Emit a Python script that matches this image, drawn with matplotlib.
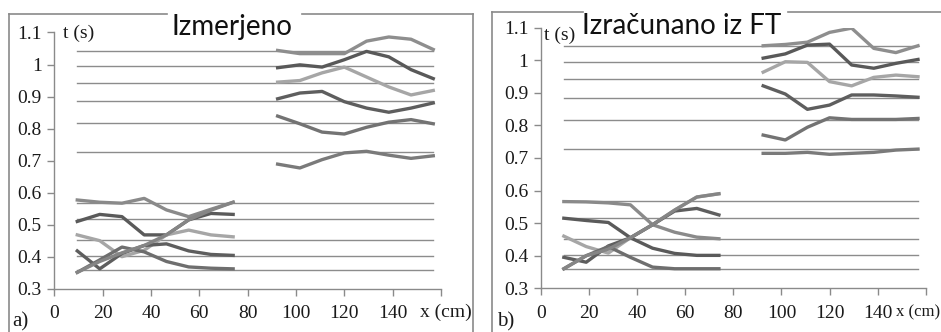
import matplotlib
matplotlib.use("Agg")
import matplotlib.pyplot as plt
from matplotlib.lines import Line2D

# measurement positions (cm)
x_low = [9.5, 18.8, 28.0, 37.2, 46.4, 55.6, 64.8, 74.0]
x_high = [92.4, 101.6, 110.8, 120.0, 129.2, 138.4, 147.6, 156.8]

# thin reference levels (s), same in both panels
ref_levels = [1.043, 0.994, 0.943, 0.885, 0.817, 0.727, 0.567, 0.517, 0.452, 0.401, 0.359]
ref_from, ref_to = 9.5, 156.8

# a) Izmerjeno
a_low = [
    [0.577, 0.570, 0.567, 0.582, 0.546, 0.525, 0.548, 0.570],
    [0.510, 0.532, 0.525, 0.468, 0.468, 0.515, 0.535, 0.532],
    [0.468, 0.450, 0.400, 0.420, 0.468, 0.483, 0.468, 0.462],
    [0.418, 0.362, 0.410, 0.435, 0.440, 0.418, 0.407, 0.404],
    [0.351, 0.390, 0.430, 0.415, 0.385, 0.368, 0.364, 0.362],
    [0.351, 0.385, 0.412, 0.435, 0.468, 0.515, 0.545, 0.570],
]
a_high = [
    [1.044, 1.034, 1.034, 1.034, 1.073, 1.086, 1.079, 1.047],
    [0.990, 0.999, 0.992, 1.015, 1.041, 1.024, 0.984, 0.956],
    [0.945, 0.950, 0.974, 0.992, 0.961, 0.930, 0.905, 0.919],
    [0.893, 0.911, 0.916, 0.884, 0.864, 0.851, 0.864, 0.880],
    [0.839, 0.815, 0.789, 0.783, 0.804, 0.820, 0.828, 0.815],
    [0.689, 0.677, 0.703, 0.724, 0.729, 0.717, 0.707, 0.715],
]

# b) Izračunano iz FT
b_low = [
    [0.566, 0.565, 0.562, 0.556, 0.495, 0.472, 0.457, 0.452],
    [0.515, 0.508, 0.502, 0.455, 0.423, 0.407, 0.401, 0.401],
    [0.460, 0.428, 0.408, 0.455, 0.495, 0.540, 0.580, 0.590],
    [0.395, 0.380, 0.430, 0.455, 0.495, 0.537, 0.545, 0.525],
    [0.360, 0.400, 0.428, 0.395, 0.365, 0.360, 0.360, 0.360],
    [0.360, 0.400, 0.420, 0.455, 0.495, 0.540, 0.580, 0.590],
]
b_high = [
    [1.044, 1.048, 1.055, 1.085, 1.098, 1.036, 1.023, 1.044],
    [1.006, 1.019, 1.046, 1.049, 0.985, 0.975, 0.990, 1.002],
    [0.963, 0.995, 0.993, 0.934, 0.921, 0.947, 0.954, 0.949],
    [0.921, 0.896, 0.849, 0.862, 0.893, 0.893, 0.890, 0.886],
    [0.770, 0.755, 0.794, 0.823, 0.818, 0.818, 0.818, 0.821],
    [0.714, 0.714, 0.717, 0.711, 0.714, 0.717, 0.724, 0.727],
]

low_colors = ["#8a8a8a", "#5a5a5a", "#a6a6a6", "#5e5e5e", "#6e6e6e", "#858585"]
high_colors = ["#8e8e8e", "#595959", "#a6a6a6", "#5e5e5e", "#737373", "#7a7a7a"]

yticks = [0.3, 0.4, 0.5, 0.6, 0.7, 0.8, 0.9, 1.0, 1.1]
ytick_labels = ["0.3", "0.4", "0.5", "0.6", "0.7", "0.8", "0.9", "1", "1.1"]
xticks = [0, 20, 40, 60, 80, 100, 120, 140, 160]
xtick_labels = ["0", "20", "40", "60", "80", "100", "120", "140", ""]

W, H = 941, 332
serif = ["Liberation Serif", "DejaVu Serif"]
frame_col = "#8a8a8a"

fig = plt.figure(figsize=(W / 100, H / 100), dpi=100)


def px(x, y):
    # pixel (from top-left) -> figure fraction
    return x / W, 1 - y / H


def panel(left, right, top, bottom, low, high):
    ax = fig.add_axes([left / W, 1 - bottom / H, (right - left) / W, (bottom - top) / H])
    for lv in ref_levels:
        ax.plot([ref_from, ref_to], [lv, lv], color="#8c8c8c", lw=1.0, zorder=1)
    for ys, c in zip(low, low_colors):
        ax.plot(x_low, ys, color=c, lw=2.4, zorder=2, solid_joinstyle="round")
    for ys, c in zip(high, high_colors):
        ax.plot(x_high, ys, color=c, lw=2.4, zorder=2, solid_joinstyle="round")
    ax.set_xlim(0, 160)
    ax.set_ylim(0.3, 1.1)
    ax.set_xticks(xticks)
    ax.set_xticklabels(xtick_labels)
    ax.set_yticks(yticks)
    ax.set_yticklabels(ytick_labels)
    for s in ["top", "right"]:
        ax.spines[s].set_visible(False)
    for s in ["left", "bottom"]:
        ax.spines[s].set_color("#8a8a8a")
        ax.spines[s].set_linewidth(1.0)
    ax.tick_params(axis="both", direction="out", length=5, width=1.0,
                   color="#8a8a8a", labelsize=14, labelcolor="#1a1a1a")
    ax.tick_params(axis="x", pad=7)
    ax.tick_params(axis="y", pad=4)
    for lab in ax.get_xticklabels() + ax.get_yticklabels():
        lab.set_family(serif)
    ax.patch.set_alpha(0)
    return ax


def frame(x0, x1, y0, gap0, gap1):
    segs = [([x0, gap0], [y0, y0]), ([gap1, x1], [y0, y0]), ([x0, x0], [y0, H + 5])]
    if x1 < W:
        segs.append(([x1, x1], [y0, H + 5]))
    for xs, ys in segs:
        fx = [v / W for v in xs]
        fy = [1 - v / H for v in ys]
        fig.add_artist(Line2D(fx, fy, color=frame_col, lw=1.2, transform=fig.transFigure))


# panel a
ax_a = panel(54.3, 441.0, 32.5, 288.7, a_low, a_high)
frame(9, 473, 14, 167, 302)
fig.text(*px(232, 35), "Izmerjeno", ha="center", va="baseline", fontsize=20,
         family=["Lato", "DejaVu Sans"], color="#111111")
fig.text(*px(63, 33), "t (s)", ha="left", va="center", fontsize=14, family=serif, color="#1a1a1a")
fig.text(*px(420, 312), "x (cm)", ha="left", va="center", fontsize=14, family=serif, color="#1a1a1a")
fig.text(*px(12, 322), "a)", ha="left", va="center", fontsize=15, family=serif, color="#1a1a1a")

# panel b
ax_b = panel(541.0, 925.7, 27.5, 288.3, b_low, b_high)
frame(492, 945, 12, 583, 788)
fig.text(*px(681.5, 34), "Izračunano iz FT", ha="center", va="baseline", fontsize=20,
         family=["Lato", "DejaVu Sans"], color="#111111")
fig.text(*px(544, 35), "t (s)", ha="left", va="center", fontsize=14, family=serif, color="#1a1a1a")
fig.text(*px(896, 312), "x (cm)", ha="left", va="center", fontsize=12, family=serif, color="#1a1a1a")
fig.text(*px(497, 322), "b)", ha="left", va="center", fontsize=15, family=serif, color="#1a1a1a")

fig.savefig("out.png", dpi=100)
